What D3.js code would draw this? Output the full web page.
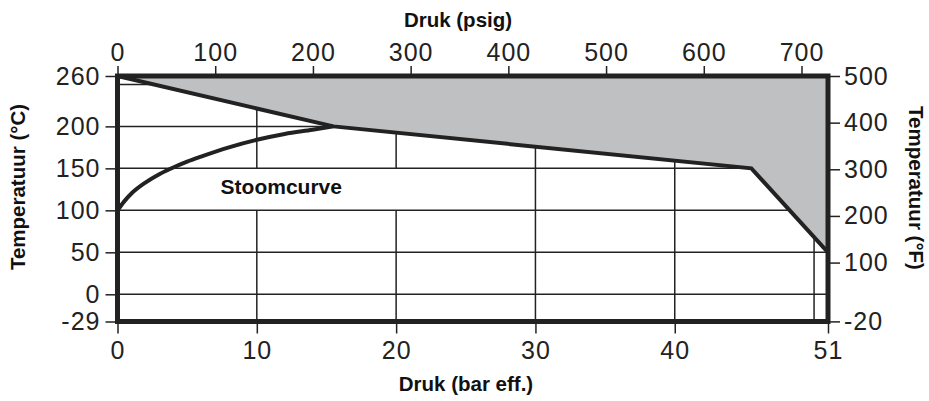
<!DOCTYPE html>
<html>
<head>
<meta charset="utf-8">
<script src="https://cdn.jsdelivr.net/npm/d3@7"></script>
<style>
  body { margin: 0; background: #fff; }
  svg { display: block; font-family: "Liberation Sans", Arial, sans-serif; }
  .tick text { font-size: 25px; fill: #222; letter-spacing: 1px; }
  .tick line { stroke: #222; stroke-width: 1.5; }
  .domain { display: none; }
  .title { font-size: 20.5px; font-weight: bold; fill: #111; }
</style>
</head>
<body>
<div id="grafiek"></div>
<script>
// Druk-temperatuur grafiek (stoomcurve)

// Gegevens
let barTicks = [0, 10, 20, 30, 40, 51]
let psigTicks = [0, 100, 200, 300, 400, 500, 600, 700]
let celsiusTicks = [260, 200, 150, 100, 50, 0, -29]
let fahrenheitTicks = [500, 400, 300, 200, 100, -20]
let gridBar = [10, 20, 30, 40, 50]
let gridCelsius = [250, 200, 150, 100, 50, 0]

let stoomBar = [0, 0.5, 1, 2, 3, 4, 5, 6, 8, 10, 12, 14, 15.5]
let stoomC = [100, 111, 120, 133, 143, 151, 158, 164, 175, 184, 191, 196, 200]

// bovengrens van het werkgebied (grijs vlak erboven)
let grensBar = [0, 15.5, 45.5, 51]
let grensC = [260, 200, 150, 50]

let width = 929,
    height = 401

let svg = d3.select("#grafiek").append("svg")
    .attr("width", width)
    .attr("height", height)

let x = d3.scaleLinear().domain([0, 51]).range([117.5, 828])
let xPsig = d3.scaleLinear().domain([0, 700]).range([117.5, 801.5])
let y = d3.scaleLinear().domain([-29, 0, 260]).range([321.5, 294.3, 76])
// zelfde schaal in graden Fahrenheit
let yF = d3.scaleLinear()
    .domain(y.domain().map(c => c * 9 / 5 + 32))
    .range(y.range())

let fmt = d => String(d)

// Rasterlijnen
svg.append("g").selectAll("line").data(gridBar)
  .enter().append("line")
    .attr("x1", d => x(d)).attr("x2", d => x(d))
    .attr("y1", y(260)).attr("y2", y(-29))
    .attr("stroke", "#222").attr("stroke-width", 1.5)

// witte band achter het label
svg.append("rect")
    .attr("x", x(0))
    .attr("y", y(150))
    .attr("width", x(25) - x(0))
    .attr("height", y(100) - y(150))
    .attr("fill", "#fff")

svg.append("g").selectAll("line").data(gridCelsius)
  .enter().append("line")
    .attr("x1", x(0)).attr("x2", x(51))
    .attr("y1", d => y(d)).attr("y2", d => y(d))
    .attr("stroke", "#222").attr("stroke-width", 1.5)

// Grijs vlak boven de grens
let grens = grensBar.map((b, i) => ({ bar: b, c: grensC[i] }))
svg.append("path")
    .datum(grens)
    .attr("fill", "#bfc0c2")
    .attr("d", d3.area().x(d => x(d.bar)).y0(y(260)).y1(d => y(d.c)))

svg.append("path")
    .datum(grens)
    .attr("fill", "none")
    .attr("stroke", "#222")
    .attr("stroke-width", 4)
    .attr("d", d3.line().x(d => x(d.bar)).y(d => y(d.c)))

// Stoomcurve
let stoom = stoomBar.map((b, i) => ({ bar: b, c: stoomC[i] }))
svg.append("path")
    .datum(stoom)
    .attr("fill", "none")
    .attr("stroke", "#222")
    .attr("stroke-width", 4)
    .attr("d", d3.line().curve(d3.curveMonotoneX).x(d => x(d.bar)).y(d => y(d.c)))

svg.append("text")
    .attr("class", "title")
    .attr("x", x(7.4))
    .attr("y", y(120))
    .style("font-size", "21px")
    .text("Stoomcurve")

// Kader
svg.append("rect")
    .attr("x", x(0))
    .attr("y", y(260))
    .attr("width", x(51) - x(0))
    .attr("height", y(-29) - y(260))
    .attr("fill", "none")
    .attr("stroke", "#222")
    .attr("stroke-width", 5)

// Assen
svg.append("g")
    .attr("transform", `translate(${x(0)},0)`)
    .call(d3.axisLeft(y).tickValues(celsiusTicks).tickFormat(fmt).tickSize(12).tickPadding(5))

svg.append("g")
    .attr("transform", `translate(${x(51)},0)`)
    .call(d3.axisRight(yF).tickValues(fahrenheitTicks).tickFormat(fmt).tickSize(12).tickPadding(4))

svg.append("g")
    .attr("transform", `translate(0,${y(-29)})`)
    .call(d3.axisBottom(x).tickValues(barTicks).tickFormat(fmt).tickSize(12).tickPadding(8))

svg.append("g")
    .attr("transform", `translate(0,${y(260)})`)
    .call(d3.axisTop(xPsig).tickValues(psigTicks).tickFormat(fmt).tickSize(10).tickPadding(5))

svg.selectAll(".tick text").attr("font-size", null).attr("font-family", null)

// Astitels
svg.append("text")
    .attr("class", "title")
    .attr("x", 458)
    .attr("y", 27)
    .attr("text-anchor", "middle")
    .text("Druk (psig)")

svg.append("text")
    .attr("class", "title")
    .attr("x", 466)
    .attr("y", 391)
    .attr("text-anchor", "middle")
    .text("Druk (bar eff.)")

svg.append("text")
    .attr("class", "title")
    .attr("transform", "translate(25,187) rotate(-90)")
    .attr("text-anchor", "middle")
    .text("Temperatuur (°C)")

svg.append("text")
    .attr("class", "title")
    .attr("transform", "translate(909,188) rotate(90)")
    .attr("text-anchor", "middle")
    .text("Temperatuur (°F)")
</script>
</body>
</html>
